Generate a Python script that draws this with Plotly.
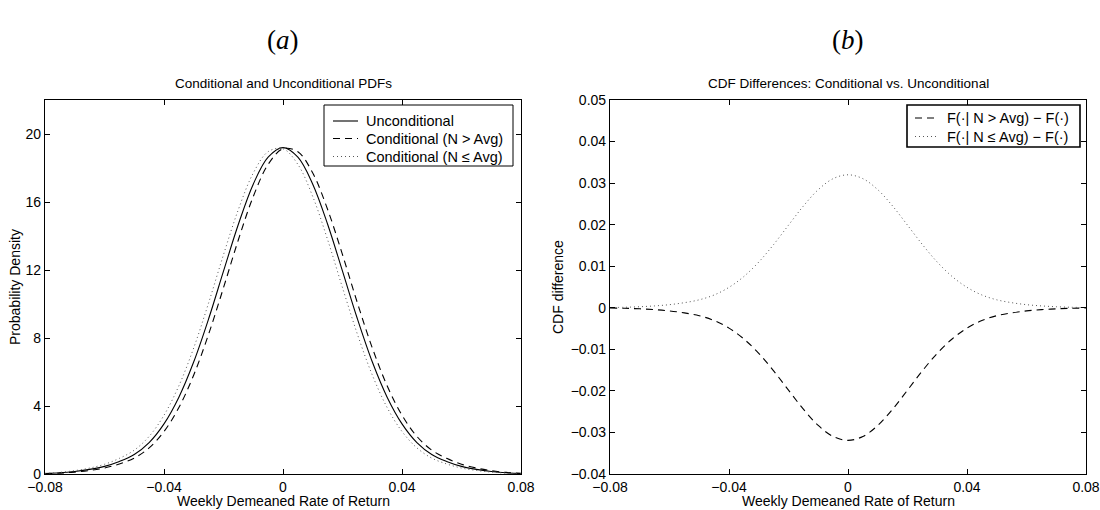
import plotly.graph_objects as go

# ---- data ----
x_grid = [-0.080, -0.075, -0.070, -0.065, -0.060, -0.055, -0.050, -0.045, -0.040,
          -0.035, -0.030, -0.025, -0.020, -0.015, -0.010, -0.005, 0.000,
          0.005, 0.010, 0.015, 0.020, 0.025, 0.030, 0.035, 0.040,
          0.045, 0.050, 0.055, 0.060, 0.065, 0.070, 0.075, 0.080]

pdf_uncond = [0.03, 0.07, 0.15, 0.27, 0.45, 0.74, 1.15, 1.85, 2.95,
              4.52, 6.60, 9.13, 11.93, 14.69, 17.05, 18.64, 19.20,
              18.64, 17.05, 14.69, 11.93, 9.13, 6.60, 4.52, 2.95,
              1.85, 1.15, 0.74, 0.45, 0.27, 0.15, 0.07, 0.03]

pdf_cond_hi = [0.022, 0.052, 0.113, 0.207, 0.352, 0.591, 0.936, 1.537, 2.502,
               3.910, 5.828, 8.226, 10.96, 13.78, 16.32, 18.21, 19.13,
               18.96, 17.70, 15.56, 12.90, 10.07, 7.425, 5.189, 3.457,
               2.213, 1.403, 0.921, 0.572, 0.350, 0.198, 0.095, 0.041]

pdf_cond_lo = [0.041, 0.095, 0.198, 0.350, 0.572, 0.921, 1.403, 2.213, 3.457,
               5.189, 7.425, 10.07, 12.90, 15.56, 17.70, 18.96, 19.13,
               18.21, 16.32, 13.78, 10.96, 8.226, 5.828, 3.910, 2.502,
               1.537, 0.936, 0.591, 0.352, 0.207, 0.113, 0.052, 0.022]

cdf_diff_hi = [-0.00005, -0.00012, -0.00025, -0.00045, -0.00075, -0.00123, -0.00191, -0.00307, -0.00490,
               -0.00751, -0.01096, -0.01517, -0.01982, -0.02440, -0.02832, -0.03097, -0.03190,
               -0.03097, -0.02832, -0.02440, -0.01982, -0.01517, -0.01096, -0.00751, -0.00490,
               -0.00307, -0.00191, -0.00123, -0.00075, -0.00045, -0.00025, -0.00012, -0.00005]

cdf_diff_lo = [0.00005, 0.00012, 0.00025, 0.00045, 0.00075, 0.00123, 0.00192, 0.00308, 0.00492,
               0.00753, 0.01100, 0.01522, 0.01988, 0.02448, 0.02842, 0.03107, 0.03200,
               0.03107, 0.02842, 0.02448, 0.01988, 0.01522, 0.01100, 0.00753, 0.00492,
               0.00308, 0.00192, 0.00123, 0.00075, 0.00045, 0.00025, 0.00012, 0.00005]

x_ticks = [-0.08, -0.04, 0, 0.04, 0.08]
x_ticktext = ["\u22120.08", "\u22120.04", "0", "0.04", "0.08"]
y1_ticks = [0, 4, 8, 12, 16, 20]
y2_ticks = [-0.04, -0.03, -0.02, -0.01, 0, 0.01, 0.02, 0.03, 0.04, 0.05]
y2_ticktext = ["\u22120.04", "\u22120.03", "\u22120.02", "\u22120.01", "0",
               "0.01", "0.02", "0.03", "0.04", "0.05"]

names_left = ["Unconditional", "Conditional (N > Avg)", "Conditional (N \u2264 Avg)"]
names_right = ["F(\u00b7| N > Avg) \u2212 F(\u00b7)", "F(\u00b7| N \u2264 Avg) \u2212 F(\u00b7)"]
panel_titles = ["Conditional and Unconditional PDFs", "CDF Differences: Conditional vs. Unconditional"]
x_title = "Weekly Demeaned Rate of Return"
y_titles = ["Probability Density", "CDF difference"]

# ---- styling ----
FONT = "Liberation Sans, Arial, sans-serif"
SERIF = "Liberation Serif, DejaVu Serif, serif"
SOLID = dict(color="black", width=1.1, dash="solid")
DASHED = dict(color="black", width=1.1, dash="7px,5px")
DOTTED = dict(color="#555555", width=1, dash="1px,3px")

W, H = 1100, 510
ml, mr, mt, mb = 45, 14, 100, 36
pw = W - ml - mr
ph = H - mt - mb


def px(xp):
    return (xp - ml) / pw


def py(yp):
    return 1 - (yp - mt) / ph


d1 = [0, px(521)]
d2 = [px(610), 1]

fig = go.Figure()
left_series = [(pdf_uncond, SOLID), (pdf_cond_hi, DASHED), (pdf_cond_lo, DOTTED)]
for (vals, st), nm in zip(left_series, names_left):
    fig.add_trace(go.Scatter(x=x_grid, y=vals, mode="lines", name=nm, showlegend=False,
                             line=dict(st, shape="spline"), xaxis="x", yaxis="y"))
right_series = [(cdf_diff_hi, DASHED), (cdf_diff_lo, DOTTED)]
for (vals, st), nm in zip(right_series, names_right):
    fig.add_trace(go.Scatter(x=x_grid, y=vals, mode="lines", name=nm, showlegend=False,
                             line=dict(st, shape="spline"), xaxis="x2", yaxis="y2"))

TICKFONT = dict(family=FONT, size=14, color="black")
axis_common = dict(showline=True, linecolor="black", linewidth=1.2, mirror="ticks",
                   ticks="inside", ticklen=5, tickcolor="black", tickwidth=1,
                   showgrid=False, zeroline=False, tickfont=TICKFONT,
                   automargin=False)

fig.update_layout(
    width=W, height=H,
    margin=dict(l=ml, r=mr, t=mt, b=mb),
    paper_bgcolor="white", plot_bgcolor="white",
    font=dict(family=FONT, size=14, color="black"),
    showlegend=False,
    xaxis=dict(domain=d1, range=[-0.08, 0.08], tickvals=x_ticks, ticktext=x_ticktext,
               anchor="y", **axis_common),
    yaxis=dict(domain=[0, 1], range=[0, 22], tickvals=y1_ticks, anchor="x", **axis_common),
    xaxis2=dict(domain=d2, range=[-0.08, 0.08], tickvals=x_ticks, ticktext=x_ticktext,
                anchor="y2", **axis_common),
    yaxis2=dict(domain=[0, 1], range=[-0.04, 0.05], tickvals=y2_ticks, ticktext=y2_ticktext,
                anchor="x2", **axis_common),
)

centers = [(d1[0] + d1[1]) / 2, (d2[0] + d2[1]) / 2]
for i in range(2):
    fig.add_annotation(text=panel_titles[i], xref="paper", yref="paper",
                       x=centers[i], y=py(83), xanchor="center", yanchor="middle",
                       showarrow=False, font=dict(family=FONT, size=13.5, color="black"))
    fig.add_annotation(text="(<i>%s</i>)" % "ab"[i], xref="paper", yref="paper",
                       x=centers[i], y=py(40), xanchor="center", yanchor="middle",
                       showarrow=False, font=dict(family=SERIF, size=27, color="black"))
    fig.add_annotation(text=x_title, xref="paper", yref="paper",
                       x=centers[i], y=py(501), xanchor="center", yanchor="middle",
                       showarrow=False, font=dict(family=FONT, size=14, color="black"))

fig.add_annotation(text=y_titles[0], xref="paper", yref="paper", textangle=-90,
                   x=px(15), y=0.5, xanchor="center", yanchor="middle",
                   showarrow=False, font=dict(family=FONT, size=14, color="black"))
fig.add_annotation(text=y_titles[1], xref="paper", yref="paper", textangle=-90,
                   x=px(558), y=0.5, xanchor="center", yanchor="middle",
                   showarrow=False, font=dict(family=FONT, size=14, color="black"))


# ---- legends (MATLAB-style boxes) ----
def draw_legend(box, border_w, rows, names, styles, line_x, text_x):
    x0, x1, y0, y1 = box
    fig.add_shape(type="rect", xref="paper", yref="paper",
                  x0=px(x0), x1=px(x1), y0=py(y1), y1=py(y0),
                  line=dict(color="black", width=border_w), fillcolor="white", layer="above")
    for ry, nm, st in zip(rows, names, styles):
        fig.add_shape(type="line", xref="paper", yref="paper",
                      x0=px(line_x[0]), x1=px(line_x[1]), y0=py(ry), y1=py(ry),
                      line=st, layer="above")
        fig.add_annotation(text=nm, xref="paper", yref="paper",
                           x=px(text_x), y=py(ry), xanchor="left", yanchor="middle",
                           showarrow=False, font=dict(family=FONT, size=14.5, color="black"))


draw_legend((324, 513, 105, 166), 1.0, [121, 138.5, 156.5], names_left,
            [SOLID, DASHED, DOTTED], (333, 358), 364)
draw_legend((907, 1080, 105, 147), 1.6, [118, 136.5], names_right,
            [DASHED, DOTTED], (915, 936), 945)

fig.write_html("out.html", config={"displayModeBar": False},
               post_script="document.body.style.margin='0px';")
